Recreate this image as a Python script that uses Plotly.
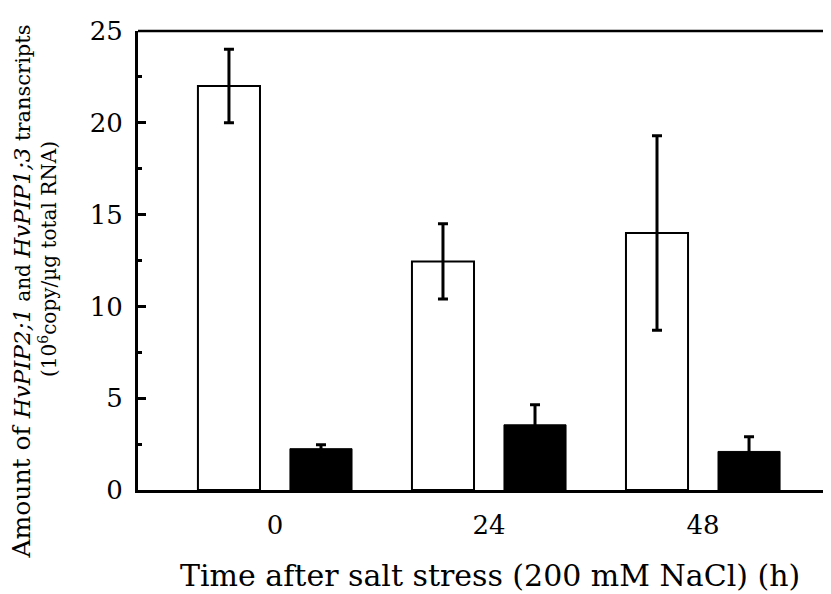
import plotly.graph_objects as go

categories = ["0", "24", "48"]
pip21_values = [22.0, 12.45, 14.0]
pip21_errors = [2.0, 2.05, 5.3]
pip13_values = [2.25, 3.55, 2.1]
pip13_errors = [0.22, 1.1, 0.8]
y_tick_vals = [0, 5, 10, 15, 20, 25]

xpos = list(range(len(categories)))
FONT = "DejaVu Serif"

# page body offset of 8px is compensated in the margins
L, R, T, B = 130, 8, 15, 112
W, H = 831, 594
PW, PH = W - L - R, H - T - B


def px(sx):
    return (sx - 8 - L) / PW


def py(sy):
    return (H - B - (sy - 8)) / PH


fig = go.Figure()
fig.add_trace(go.Bar(
    x=xpos, y=pip21_values, width=0.29, offset=-0.36,
    marker=dict(color="white", line=dict(color="black", width=2)),
    error_y=dict(type="data", array=pip21_errors, visible=True,
                 color="black", thickness=3, width=5),
    showlegend=False,
))
fig.add_trace(go.Bar(
    x=xpos, y=pip13_values, width=0.29, offset=0.07,
    marker=dict(color="black", line=dict(color="black", width=1)),
    error_y=dict(type="data", array=pip13_errors, visible=True,
                 color="black", thickness=3, width=5),
    showlegend=False,
))

line1 = ('<span style="font-size:25px">Amount of </span>'
         '<span style="font-size:23px"><i>HvPIP2;1</i></span>'
         '<span style="font-size:20px"> and </span>'
         '<span style="font-size:23px"><i>HvPIP1;3</i></span>'
         '<span style="font-size:21px"> transcripts</span>')
line2 = "(10<sup>6</sup>copy/µg total RNA)"

fig.update_layout(
    width=W, height=H,
    margin=dict(l=L, r=R, t=T, b=B),
    paper_bgcolor="white", plot_bgcolor="white",
    barmode="overlay",
    font=dict(family=FONT, color="black"),
    xaxis=dict(
        range=[-0.64, 2.598], tickmode="array", tickvals=xpos, ticktext=categories,
        showline=True, linecolor="black", linewidth=3, ticks="",
        showgrid=False, zeroline=False, tickfont=dict(size=26, family=FONT),
        ticklabelstandoff=10,
    ),
    yaxis=dict(
        range=[0, 25], tickmode="array", tickvals=y_tick_vals,
        showline=True, linecolor="black", linewidth=3,
        ticks="inside", ticklen=8, tickwidth=3, tickcolor="black",
        minor=dict(dtick=2.5, ticks="inside", ticklen=4, tickwidth=3, tickcolor="black", showgrid=False),
        showgrid=False, zeroline=False, tickfont=dict(size=26, family=FONT),
        ticklabelstandoff=7,
    ),
    shapes=[dict(type="line", xref="paper", yref="paper", x0=0, x1=1, y0=1, y1=1,
                 line=dict(color="black", width=2.5))],
    annotations=[
        dict(text="Time after salt stress (200 mM NaCl) (h)",
             xref="paper", yref="paper", x=px(490), y=py(577),
             xanchor="center", yanchor="middle", showarrow=False,
             font=dict(size=30, family=FONT)),
        dict(text=line1, xref="paper", yref="paper", x=px(21), y=py(288),
             xanchor="center", yanchor="middle", textangle=-90, showarrow=False,
             font=dict(size=22, family=FONT)),
        dict(text=line2, xref="paper", yref="paper", x=px(48), y=py(255),
             xanchor="center", yanchor="middle", textangle=-90, showarrow=False,
             font=dict(size=20, family=FONT)),
    ],
)

fig.write_html("out.html")
